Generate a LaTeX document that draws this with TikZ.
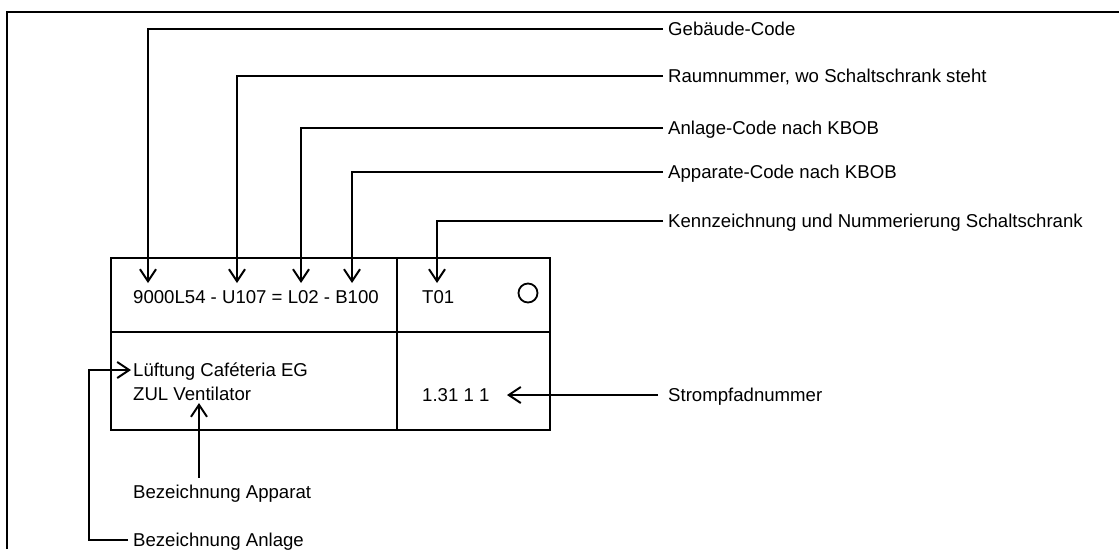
\documentclass[tikz,border=0pt]{standalone}
\usepackage{fontspec}
\setmainfont{Liberation Sans}
\usetikzlibrary{arrows.meta}
\begin{document}
\begin{tikzpicture}[x=1pt,y=-1pt,
  txt/.style={font=\fontsize{18.6}{22}\selectfont, inner sep=0pt, anchor=west, text height=13.3pt, text depth=0pt},
  boxline/.style={line width=2pt},
  frameline/.style={line width=1.2pt},
  ptr/.style={line width=2pt, -{Straight Barb[length=12pt,width=16pt,line width=2pt]}}]
\useasboundingbox (0,0) rectangle (1119,549);
% outer frame
\draw[frameline] (7,549) -- (7,12) -- (1119,12);
% table
\draw[boxline] (111,258) rectangle (550,430);
\draw[boxline] (397,258) -- (397,430);
\draw[boxline] (111,332) -- (550,332);
\draw[line width=1.8pt] (528,293) circle (9.5);
% texts in table
\node[txt] (code) at (133,297) {9000L54 - U107 = L02 - B100};
\node[txt] (t01) at (422,297) {T01};
\node[txt] (lueft) at (133,370) {Lüftung Caféteria EG};
\node[txt] (zul) at (133,394) {ZUL Ventilator};
\node[txt] (strnr) at (422,395) {1.31 1 1};
% labels
\node[txt] (geb) at (668,29) {Gebäude-Code};
\node[txt] (raum) at (668,76) {Raumnummer, wo Schaltschrank steht};
\node[txt] (anl) at (668,128) {Anlage-Code nach KBOB};
\node[txt] (app) at (668,172) {Apparate-Code nach KBOB};
\node[txt] (kenn) at (668,221) {Kennzeichnung und Nummerierung Schaltschrank};
\node[txt] (strom) at (668,395) {Strompfadnummer};
\node[txt] (bapp) at (133,492) {Bezeichnung Apparat};
\node[txt] (banl) at (133,540) {Bezeichnung Anlage};
% arrow targets
\coordinate (tgeb) at (148,283);
\coordinate (traum) at (237,283);
\coordinate (tanl) at (301,283);
\coordinate (tapp) at (352,283);
\coordinate (tkenn) at (437,283);
\coordinate (tstrom) at (507,395);
\coordinate (tbapp) at (199,403);
\coordinate (lbend) at (89,370);
\coordinate (tbanl) at (131,370);
% connectors
\draw[ptr] ([xshift=-5pt]geb.west) -| (tgeb);
\draw[ptr] ([xshift=-5pt]raum.west) -| (traum);
\draw[ptr] ([xshift=-5pt]anl.west) -| (tanl);
\draw[ptr] ([xshift=-5pt]app.west) -| (tapp);
\draw[ptr] ([xshift=-5pt]kenn.west) -| (tkenn);
\draw[ptr] ([xshift=-10pt]strom.west) -- (tstrom);
\draw[ptr] ([yshift=7.5pt]bapp.north -| tbapp) -- (tbapp);
\draw[ptr] ([xshift=-5pt]banl.west) -| (lbend) -- (tbanl);
\end{tikzpicture}
\end{document}
